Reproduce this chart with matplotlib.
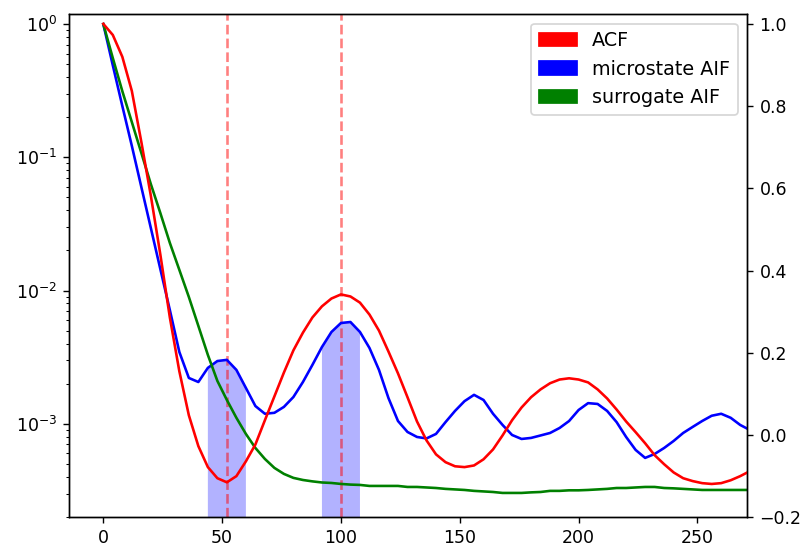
import numpy as np
import matplotlib
matplotlib.use("Agg")
import matplotlib.pyplot as plt
import matplotlib.patches as mpatches

# lag axis (4 units per sample)
lags = np.arange(0, 273, 4)

acf = [1.000, 0.973, 0.920, 0.837, 0.713, 0.582, 0.439, 0.286, 0.155, 0.048,
       -0.027, -0.078, -0.105, -0.115, -0.100, -0.064, -0.023, 0.036, 0.094, 0.152,
       0.206, 0.249, 0.286, 0.313, 0.332, 0.342, 0.337, 0.322, 0.293, 0.254,
       0.203, 0.150, 0.092, 0.033, -0.013, -0.047, -0.066, -0.076, -0.078, -0.074,
       -0.059, -0.035, -0.001, 0.036, 0.067, 0.092, 0.111, 0.126, 0.135, 0.138,
       0.135, 0.128, 0.111, 0.089, 0.062, 0.033, 0.007, -0.020, -0.049, -0.071,
       -0.091, -0.105, -0.112, -0.117, -0.119, -0.117, -0.110, -0.100, -0.088]

aif_micro = [1.0, 0.49, 0.243, 0.122, 0.0599, 0.0295, 0.0145, 7.15e-3, 3.46e-3, 2.21e-3,
             2.06e-3, 2.63e-3, 2.96e-3, 3.02e-3, 2.54e-3, 1.86e-3, 1.36e-3, 1.19e-3, 1.21e-3, 1.34e-3,
             1.59e-3, 2.06e-3, 2.77e-3, 3.77e-3, 4.89e-3, 5.71e-3, 5.81e-3, 4.89e-3, 3.71e-3, 2.54e-3,
             1.56e-3, 1.05e-3, 8.69e-4, 7.97e-4, 7.77e-4, 8.40e-4, 1.03e-3, 1.25e-3, 1.48e-3, 1.65e-3,
             1.51e-3, 1.19e-3, 9.81e-4, 8.25e-4, 7.70e-4, 7.84e-4, 8.18e-4, 8.54e-4, 9.31e-4, 1.05e-3,
             1.27e-3, 1.43e-3, 1.41e-3, 1.25e-3, 1.03e-3, 7.97e-4, 6.37e-4, 5.55e-4, 5.94e-4, 6.59e-4,
             7.44e-4, 8.54e-4, 9.48e-4, 1.05e-3, 1.15e-3, 1.19e-3, 1.11e-3, 9.81e-4, 9.00e-4]

aif_surr = [1.0, 0.556, 0.314, 0.184, 0.108, 0.063, 0.0382, 0.0228, 0.0143, 8.95e-3,
            5.43e-3, 3.29e-3, 2.10e-3, 1.51e-3, 1.11e-3, 8.40e-4, 6.59e-4, 5.45e-4, 4.67e-4, 4.21e-4,
            3.93e-4, 3.79e-4, 3.70e-4, 3.63e-4, 3.60e-4, 3.54e-4, 3.50e-4, 3.48e-4, 3.42e-4, 3.42e-4,
            3.42e-4, 3.42e-4, 3.36e-4, 3.36e-4, 3.33e-4, 3.30e-4, 3.25e-4, 3.22e-4, 3.19e-4, 3.14e-4,
            3.11e-4, 3.08e-4, 3.03e-4, 3.03e-4, 3.03e-4, 3.06e-4, 3.08e-4, 3.14e-4, 3.14e-4, 3.17e-4,
            3.17e-4, 3.19e-4, 3.22e-4, 3.25e-4, 3.30e-4, 3.30e-4, 3.33e-4, 3.36e-4, 3.36e-4, 3.30e-4,
            3.28e-4, 3.25e-4, 3.22e-4, 3.19e-4, 3.19e-4, 3.19e-4, 3.19e-4, 3.19e-4, 3.19e-4]

peaks = [52, 100]
half_width = 8

fig = plt.figure(figsize=(806 / 125, 549 / 125), dpi=125)
ax = fig.add_axes([0.086, 0.0578, 0.8412, 0.9167])

ylo = 1.99e-4
mask = np.zeros(len(lags), dtype=bool)
for p in peaks:
    mask |= (lags >= p - half_width) & (lags <= p + half_width)
    ax.axvline(p, color='r', ls='--', alpha=0.5)
ax.fill_between(lags, ylo, aif_micro, where=mask, color='b', alpha=0.3, lw=0)

ax.semilogy(lags, aif_micro, '-b')
ax.semilogy(lags, aif_surr, '-g')
ax.set_ylim(ylo, 1.19)
ax.set_xlim(-14.3, 271)

ax2 = ax.twinx()
ax2.plot(lags, acf, '-r')
ax2.set_ylim(-0.2, 1.024)
ax2.set_yticks([-0.2, 0.0, 0.2, 0.4, 0.6, 0.8, 1.0])

handles = [mpatches.Patch(color='r', label='ACF'),
           mpatches.Patch(color='b', label='microstate AIF'),
           mpatches.Patch(color='g', label='surrogate AIF')]
ax2.legend(handles=handles, loc='upper right', fontsize=11)

fig.savefig("out.png", dpi=125)
plt.close()
